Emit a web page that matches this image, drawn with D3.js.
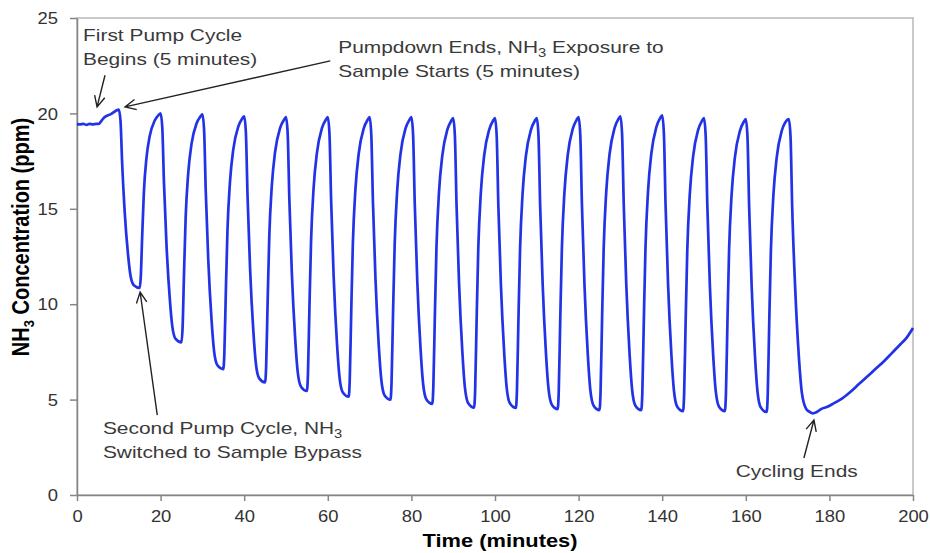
<!DOCTYPE html>
<meta charset="utf-8">
<style>

    body {
        margin: 0;
        background: #fff;
    }

    svg {
        display: block;
        font-family: Arial, "Liberation Sans", sans-serif;
    }

    .axis text {
        fill: #333;
        font-size: 16px;
        font-family: Arial, "Liberation Sans", sans-serif;
    }

    .axis path.domain,
    .axis .tick line {
        stroke: #868686;
        stroke-width: 1.5;
    }

    rect.frame {
        fill: none;
        stroke: #b8b8b8;
        stroke-width: 1.5;
    }

    path.series {
        fill: none;
        stroke: #2233e6;
        stroke-width: 2.7;
        stroke-linejoin: round;
    }

    text.note {
        fill: #3a3a3a;
        font-size: 17px;
    }

    path.arrow {
        fill: none;
        stroke: #222;
        stroke-width: 1.4;
    }

    text.label {
        fill: #000;
        font-size: 19px;
        font-weight: bold;
    }

</style>
<body>
<script src="https://cdnjs.cloudflare.com/ajax/libs/d3/7.8.5/d3.min.js"></script>
<script>

    // NH3 concentration (ppm) vs time (minutes)
    var pumpdown = [
        [0, 19.45], [0.7, 19.42], [1.5, 19.45], [2.3, 19.4], [3, 19.45], [3.8, 19.42],
        [4.6, 19.45], [5.2, 19.45], [5.8, 19.6], [6.5, 19.78], [7.2, 19.88], [8, 19.95],
        [8.7, 20.05], [9.4, 20.15]
    ];

    var cycling = [
        [10, 20.2], [10.4, 19.64], [10.8, 17.4], [11.4, 14.87], [12.2, 12.63], [12.8, 11.5], [13.6, 10.99], [15, 10.85],
        [15.25, 11.4], [15.6, 13.6], [16, 15.88], [16.6, 17.62], [17.4, 18.81], [18.6, 19.63], [19.5, 19.91],
        [20, 20.0], [20.4, 19.28], [20.8, 16.4], [21.4, 13.16], [22.2, 10.28], [22.8, 8.84], [23.6, 8.18], [25, 8.0],
        [25.25, 8.72], [25.6, 11.59], [26, 14.57], [26.6, 16.84], [27.4, 18.4], [28.6, 19.47], [29.5, 19.83],
        [30, 19.95], [30.4, 19.15], [30.8, 15.95], [31.4, 12.34], [32.2, 9.14], [32.8, 7.53], [33.6, 6.8], [35, 6.6],
        [35.25, 7.4], [35.6, 10.58], [36, 13.89], [36.6, 16.41], [37.4, 18.13], [38.6, 19.32], [39.5, 19.72],
        [40, 19.85], [40.4, 19.01], [40.8, 15.67], [41.4, 11.9], [42.2, 8.55], [42.8, 6.88], [43.6, 6.11], [45, 5.9],
        [45.25, 6.73], [45.6, 10.07], [46, 13.55], [46.6, 16.19], [47.4, 17.99], [48.6, 19.24], [49.5, 19.66],
        [50, 19.8], [50.4, 18.94], [50.8, 15.5], [51.4, 11.62], [52.2, 8.18], [52.8, 6.45], [53.6, 5.67], [55, 5.45],
        [55.25, 6.31], [55.6, 9.76], [56, 13.34], [56.6, 16.07], [57.4, 17.93], [58.6, 19.23], [59.5, 19.66],
        [60, 19.8], [60.4, 18.92], [60.8, 15.41], [61.4, 11.45], [62.2, 7.93], [62.8, 6.18], [63.6, 5.37], [65, 5.15],
        [65.25, 6.03], [65.6, 9.55], [66, 13.21], [66.6, 15.99], [67.4, 17.9], [68.6, 19.21], [69.5, 19.65],
        [70, 19.8], [70.4, 18.91], [70.8, 15.36], [71.4, 11.36], [72.2, 7.81], [72.8, 6.04], [73.6, 5.22], [75, 5.0],
        [75.25, 5.89], [75.6, 9.44], [76, 13.14], [76.6, 15.95], [77.4, 17.88], [78.6, 19.21], [79.5, 19.65],
        [80, 19.8], [80.4, 18.9], [80.8, 15.29], [81.4, 11.24], [82.2, 7.63], [82.8, 5.83], [83.6, 5.01], [85, 4.78],
        [85.25, 5.68], [85.6, 9.27], [86, 13.01], [86.6, 15.86], [87.4, 17.8], [88.6, 19.15], [89.5, 19.6],
        [90, 19.75], [90.4, 18.84], [90.8, 15.2], [91.4, 11.1], [92.2, 7.46], [92.8, 5.64], [93.6, 4.81], [95, 4.58],
        [95.25, 5.49], [95.6, 9.13], [96, 12.92], [96.6, 15.81], [97.4, 17.78], [98.6, 19.14], [99.5, 19.6],
        [100, 19.75], [100.4, 18.84], [100.8, 15.19], [101.4, 11.09], [102.2, 7.45], [102.8, 5.62], [103.6, 4.79], [105, 4.56],
        [105.25, 5.47], [105.6, 9.12], [106, 12.91], [106.6, 15.8], [107.4, 17.78], [108.6, 19.14], [109.5, 19.6],
        [110, 19.75], [110.4, 18.84], [110.8, 15.18], [111.4, 11.06], [112.2, 7.4], [112.8, 5.57], [113.6, 4.73], [115, 4.5],
        [115.25, 5.42], [115.6, 9.09], [116, 12.92], [116.6, 15.82], [117.4, 17.81], [118.6, 19.19], [119.5, 19.65],
        [120, 19.8], [120.4, 18.88], [120.8, 15.2], [121.4, 11.05], [122.2, 7.37], [122.8, 5.52], [123.6, 4.68], [125, 4.45],
        [125.25, 5.37], [125.6, 9.07], [126, 12.92], [126.6, 15.85], [127.4, 17.85], [128.6, 19.23], [129.5, 19.7],
        [130, 19.85], [130.4, 18.93], [130.8, 15.23], [131.4, 11.07], [132.2, 7.38], [132.8, 5.53], [133.6, 4.68], [135, 4.45],
        [135.25, 5.38], [135.6, 9.09], [136, 12.95], [136.6, 15.88], [137.4, 17.89], [138.6, 19.28], [139.5, 19.75],
        [140, 19.9], [140.4, 18.97], [140.8, 15.25], [141.4, 11.07], [142.2, 7.35], [142.8, 5.49], [143.6, 4.63], [145, 4.4],
        [145.25, 5.32], [145.6, 9.01], [146, 12.84], [146.6, 15.76], [147.4, 17.75], [148.6, 19.14], [149.5, 19.6],
        [150, 19.75], [150.4, 18.83], [150.8, 15.15], [151.4, 11.0], [152.2, 7.32], [152.8, 5.47], [153.6, 4.63], [155, 4.4],
        [155.25, 5.32], [155.6, 8.99], [156, 12.82], [156.6, 15.72], [157.4, 17.71], [158.6, 19.09], [159.5, 19.55],
        [160, 19.7], [160.4, 18.78], [160.8, 15.1], [161.4, 10.95], [162.2, 7.27], [162.8, 5.42], [163.6, 4.58], [165, 4.35],
        [165.25, 5.27], [165.6, 8.96], [166, 12.79], [166.6, 15.71], [167.4, 17.7], [168.6, 19.09], [169.5, 19.55],
        [170.3, 19.7], [170.7, 18.78], [171.1, 15.08], [171.8, 10.92], [172.7, 7.23], [173.4, 5.38], [174.4, 4.53], [175.3, 4.35]
    ];

    var recovery = [
        [176, 4.28], [177, 4.35], [178, 4.5], [179.5, 4.62], [181, 4.8], [183, 5.05], [185, 5.4],
        [187, 5.8], [189, 6.2], [191, 6.6], [193, 7.0], [195, 7.45], [197, 7.9], [198.5, 8.25], [200, 8.75]
    ];

    var xTicks = [0, 20, 40, 60, 80, 100, 120, 140, 160, 180, 200],
        yTicks = [0, 5, 10, 15, 20, 25];

    // arrows: tail and tip in data units (minutes, ppm)
    var arrows = [
        {from: [6.7, 22.0], to: [4.8, 20.34]},
        {from: [60.6, 22.75], to: [11.5, 20.34]},
        {from: [19.2, 4.19], to: [15.1, 10.64]},
        {from: [173.9, 1.94], to: [176.3, 3.93]}
    ];

    var notes = [
        {at: [1.44, 23.8], lines: [["First Pump Cycle"], ["Begins (5 minutes)"]]},
        {at: [62.5, 23.17], lines: [["Pumpdown Ends, NH", "3", " Exposure to"], ["Sample Starts (5 minutes)"]]},
        {at: [6.2, 3.2], lines: [["Second Pump Cycle, NH", "3"], ["Switched to Sample Bypass"]]},
        {at: [157.6, 0.94], lines: [["Cycling Ends"]]}
    ];

    var width = 930, height = 553,
        plot = {left: 77, right: 913, top: 18, bottom: 495},
        stretch = 1.15,      // the source text is drawn a little wide
        noteStretch = 1.23;

    var x = d3.scaleLinear()
            .domain([0, 200])
            .range([plot.left, plot.right]);

    var y = d3.scaleLinear()
            .domain([0, 25])
            .range([plot.bottom, plot.top]);

    var svg = d3.select("body").append("svg")
            .attr("width", width)
            .attr("height", height);

    svg.append("rect")
            .attr("class", "frame")
            .attr("x", plot.left)
            .attr("y", plot.top)
            .attr("width", plot.right - plot.left)
            .attr("height", plot.bottom - plot.top);

    var xAxis = d3.axisBottom(x)
            .tickValues(xTicks)
            .tickSize(6)
            .tickSizeOuter(0);

    var yAxis = d3.axisLeft(y)
            .tickValues(yTicks)
            .tickSize(7)
            .tickSizeOuter(0);

    svg.append("g")
            .attr("class", "x axis")
            .attr("transform", "translate(0," + plot.bottom + ")")
            .call(xAxis)
            .selectAll("text")
            .attr("y", null)
            .attr("dy", null)
            .attr("transform", "translate(0,27) scale(" + stretch + ",1)");

    svg.append("g")
            .attr("class", "y axis")
            .attr("transform", "translate(" + plot.left + ",0)")
            .call(yAxis)
            .selectAll("text")
            .attr("x", null)
            .attr("dy", "0.35em")
            .attr("transform", "translate(-19,0) scale(" + stretch + ",1)");

    var line = d3.line()
            .x(function(d) { return x(d[0]); })
            .y(function(d) { return y(d[1]); })
            .curve(d3.curveMonotoneX);

    svg.append("path")
            .datum(pumpdown.concat(cycling, recovery))
            .attr("class", "series")
            .attr("d", line);

    // axis titles
    svg.append("text")
            .attr("class", "label")
            .attr("text-anchor", "middle")
            .attr("transform", "translate(500,547) scale(" + stretch + ",1)")
            .text("Time (minutes)");

    var yLabel = svg.append("text")
            .attr("class", "label")
            .attr("text-anchor", "middle")
            .style("font-size", "20px")
            .attr("transform", "translate(29,237) scale(" + stretch + ",1) rotate(-90)");
    yLabel.append("tspan").text("NH");
    yLabel.append("tspan").attr("font-size", "13px").attr("dy", 4).text("3");
    yLabel.append("tspan").attr("dy", -4).text(" Concentration (ppm)");

    // annotations
    notes.forEach(function(n) {
        n.lines.forEach(function(parts, i) {
            var t = svg.append("text")
                    .attr("class", "note")
                    .attr("transform", "translate(" + x(n.at[0]) + "," + (y(n.at[1]) + i * 24) + ") scale(" + noteStretch + ",1)");
            parts.forEach(function(p, j) {
                var s = t.append("tspan").text(p);
                if (j % 2 == 1) s.attr("font-size", "12px").attr("dy", 4);
                else if (j > 0) s.attr("dy", -4);
            });
        });
    });

    arrows.forEach(function(a) {
        var x0 = x(a.from[0]), y0 = y(a.from[1]),
            x1 = x(a.to[0]), y1 = y(a.to[1]),
            ang = Math.atan2(y1 - y0, x1 - x0),
            len = 12, spread = 0.45;
        var p = d3.path();
        p.moveTo(x0, y0);
        p.lineTo(x1, y1);
        p.moveTo(x1 - len * Math.cos(ang - spread), y1 - len * Math.sin(ang - spread));
        p.lineTo(x1, y1);
        p.lineTo(x1 - len * Math.cos(ang + spread), y1 - len * Math.sin(ang + spread));
        svg.append("path")
                .attr("class", "arrow")
                .attr("d", p.toString());
    });

</script>
